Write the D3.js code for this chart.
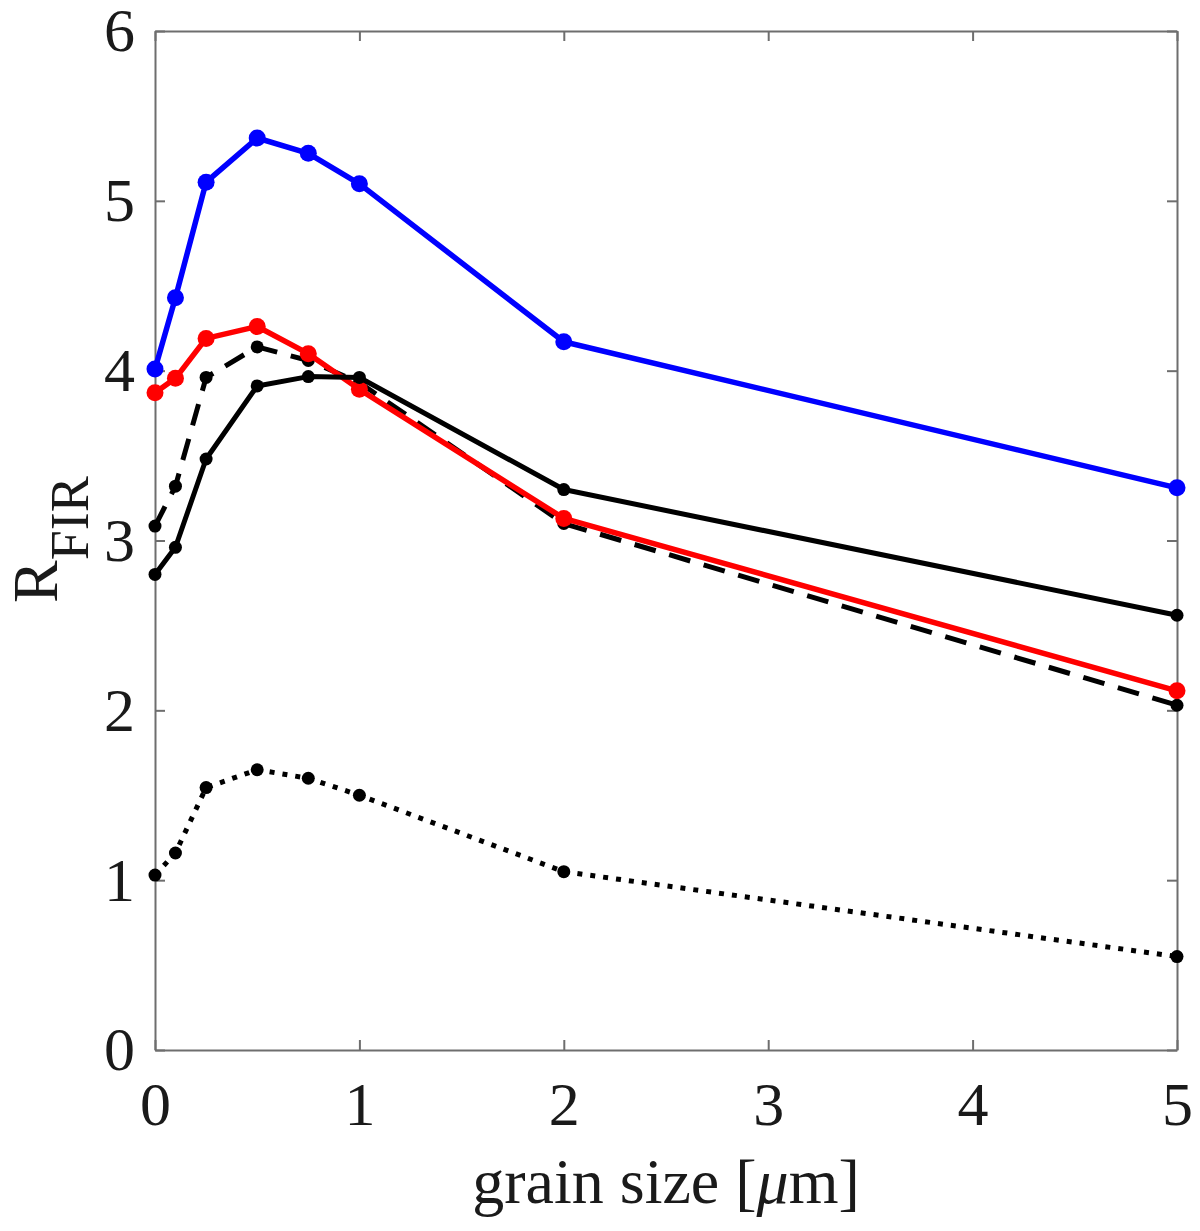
<!DOCTYPE html>
<html>
<head>
<meta charset="utf-8">
<script src="https://cdn.jsdelivr.net/npm/d3@7"></script>
<style>
  body { margin: 0; background: #fff; }
  svg { display: block; }
  .axis text { font-family: "Liberation Serif", "Times New Roman", serif; fill: #1a1a1a; }
</style>
</head>
<body>
<div class="chart"></div>
<script>
// grain sizes (um) and R_FIR values
const grainSize = [0, 0.1, 0.25, 0.5, 0.75, 1, 2, 5];
const blueSeries = [4.01, 4.43, 5.11, 5.37, 5.28, 5.10, 4.17, 3.31];
const redSeries = [3.87, 3.955, 4.19, 4.26, 4.10, 3.89, 3.13, 2.115];
const blackSolid = [2.80, 2.96, 3.48, 3.91, 3.965, 3.96, 3.30, 2.56];
const blackDashed = [3.085, 3.32, 3.96, 4.14, 4.06, 3.93, 3.10, 2.03];
const blackDotted = [1.03, 1.16, 1.545, 1.65, 1.60, 1.50, 1.05, 0.55];
const xTicks = [0, 1, 2, 3, 4, 5];
const yTicks = [0, 1, 2, 3, 4, 5, 6];

const W = 1200, H = 1231;
const margin = { top: 31, right: 23, bottom: 181, left: 155 };
const width = W - margin.left - margin.right;
const height = H - margin.top - margin.bottom;

const svg = d3.select(".chart")
    .append("svg")
    .attr("width", W)
    .attr("height", H);

const g = svg.append("g")
    .attr("transform", "translate(" + margin.left + "," + margin.top + ")");

const x = d3.scaleLinear().domain([0, 5]).range([0, width]);
const y = d3.scaleLinear().domain([0, 6]).range([height, 0]);

// box axes, ticks pointing inward like MATLAB
const axisColor = "#6e6e6e";
function styleAxis(sel) {
    sel.selectAll("path.domain").attr("stroke", axisColor).attr("stroke-width", 2);
    sel.selectAll(".tick line").attr("stroke", axisColor).attr("stroke-width", 2);
}

g.append("g")
    .attr("class", "axis")
    .attr("transform", "translate(0," + height + ")")
    .call(d3.axisBottom(x).tickValues(xTicks).tickFormat(d3.format("d"))
        .tickSizeInner(-10).tickSizeOuter(0).tickPadding(31))
    .call(styleAxis)
    .selectAll("text").style("font-size", "62px");

g.append("g")
    .attr("class", "axis")
    .call(d3.axisLeft(y).tickValues(yTicks).tickFormat(d3.format("d"))
        .tickSizeInner(-10).tickSizeOuter(0).tickPadding(20))
    .call(styleAxis)
    .selectAll("text").style("font-size", "62px");

g.append("g")
    .attr("class", "axis")
    .call(d3.axisTop(x).tickValues(xTicks).tickFormat("")
        .tickSizeInner(-10).tickSizeOuter(0))
    .call(styleAxis);

g.append("g")
    .attr("class", "axis")
    .attr("transform", "translate(" + width + ",0)")
    .call(d3.axisRight(y).tickValues(yTicks).tickFormat("")
        .tickSizeInner(-10).tickSizeOuter(0))
    .call(styleAxis);

const series = [
    { values: blackDotted, color: "#000", width: 5, dash: "5,8", r: 6.5 },
    { values: blackDashed, color: "#000", width: 5, dash: "22,14", r: 6.5 },
    { values: redSeries, color: "#ff0000", width: 5.5, dash: null, r: 8.5 },
    { values: blackSolid, color: "#000", width: 5, dash: null, r: 6.5 },
    { values: blueSeries, color: "#0000ff", width: 5.5, dash: null, r: 8.5 }
];

const line = d3.line()
    .x((d, i) => x(grainSize[i]))
    .y((d) => y(d));

series.forEach((s) => {
    g.append("path")
        .datum(s.values)
        .attr("fill", "none")
        .attr("stroke", s.color)
        .attr("stroke-width", s.width)
        .attr("stroke-dasharray", s.dash)
        .attr("stroke-linejoin", "round")
        .attr("d", line);

    g.selectAll(null)
        .data(s.values)
        .enter()
        .append("circle")
        .attr("cx", (d, i) => x(grainSize[i]))
        .attr("cy", (d) => y(d))
        .attr("r", s.r)
        .attr("fill", s.color);
});

// axis labels
svg.append("text")
    .attr("x", margin.left + width / 2)
    .attr("y", 1203)
    .attr("text-anchor", "middle")
    .style("font-family", "'Liberation Serif', serif")
    .style("font-size", "64px")
    .style("fill", "#1a1a1a")
    .html("grain size [<tspan font-style='italic'>μ</tspan>m]");

const ylab = svg.append("text")
    .attr("transform", "translate(57,603) rotate(-90)")
    .style("font-family", "'Liberation Serif', serif")
    .style("fill", "#1a1a1a");
ylab.append("tspan").style("font-size", "64px").text("R");
ylab.append("tspan").style("font-size", "54px").attr("dy", 31).text("FIR");
</script>
</body>
</html>
